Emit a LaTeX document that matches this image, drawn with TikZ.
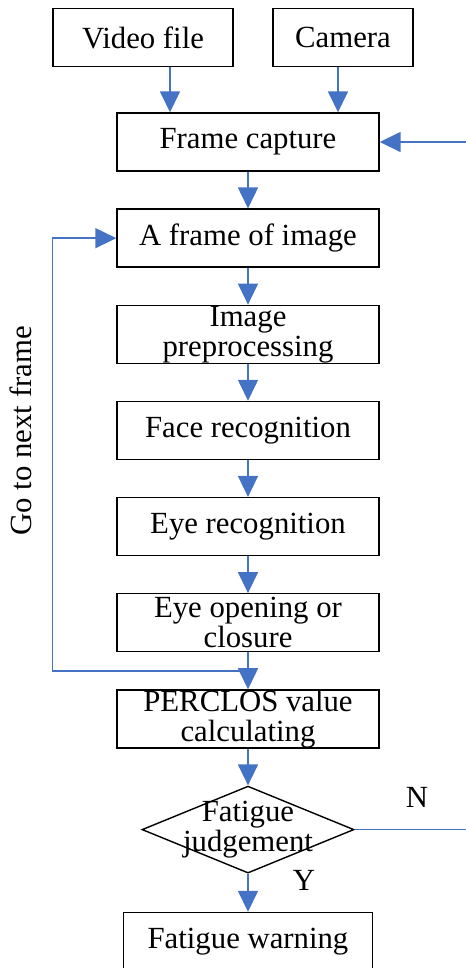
\documentclass[tikz,border=0pt]{standalone}
\usepackage{fontspec}
\setmainfont{Liberation Serif}
\usepackage{tikz}
\usetikzlibrary{shapes.geometric, arrows.meta, positioning, calc}
\definecolor{flowblue}{HTML}{4472C4}

\begin{document}
\begin{tikzpicture}[
    node distance=0.735cm,
    font=\fontsize{17.5}{17}\selectfont,
    stepbox/.style={rectangle, draw=black, line width=0.8pt, minimum width=5.24cm, minimum height=1.16cm, align=center, inner sep=0pt},
    srcbox/.style={stepbox, minimum width=#1},
    decision/.style={diamond, draw=black, line width=0.8pt, minimum width=4.24cm, minimum height=1.74cm, inner sep=0pt},
    arrow/.style={-{Triangle[length=0.42cm, width=0.4cm]}, draw=flowblue, line width=0.9pt},
    link/.style={draw=flowblue, line width=0.9pt}
]
\useasboundingbox (-4.96,2.84) rectangle (4.36,-16.52);

% Nodes
\node[stepbox] (capture) {Frame capture};
\node[srcbox=3.6cm, above=0.9cm of capture, xshift=-2.1cm] (video) {Video file};
\node[srcbox=2.8cm, above=0.9cm of capture, xshift=1.9cm] (camera) {Camera};

\node[stepbox, below=of capture] (frame) {A frame of image};
\node[stepbox, below=of frame] (prep) {Image\\preprocessing};
\node[stepbox, below=of prep] (face) {Face recognition};
\node[stepbox, below=of face] (eye) {Eye recognition};
\node[stepbox, below=of eye] (open) {Eye opening or\\closure};
\node[stepbox, below=of open] (perclos) {PERCLOS value\\calculating};

\node[decision, below=of perclos, label={[align=center]center:Fatigue\\judgement}] (judge) {};
\node[stepbox, minimum width=4.98cm, below=0.76cm of judge] (warn) {Fatigue warning};

% Loop points
\coordinate (backin) at ([xshift=1.74cm]capture.east);
\coordinate (backout) at (backin |- judge.east);
\coordinate (loopturn) at ($(open.south)!0.5!(perclos.north)$);
\coordinate (looptop) at ([xshift=-1.28cm]frame.west);

% Arrows
\draw[arrow] ([xshift=0.54cm]video.south) -- ([xshift=0.54cm]video.south |- capture.north);
\draw[arrow] ([xshift=-0.1cm]camera.south) -- ([xshift=-0.1cm]camera.south |- capture.north);
\draw[arrow] (backin) -- (capture);

\draw[arrow] (capture) -- (frame);
\draw[arrow] (frame) -- (prep);
\draw[arrow] (prep) -- (face);
\draw[arrow] (face) -- (eye);
\draw[arrow] (eye) -- (open);
\draw[arrow] (open) -- (perclos);
\draw[arrow] (perclos) -- (judge);

\draw[arrow] (loopturn) -- (loopturn -| looptop)
    -- node[pos=0.555, rotate=90, anchor=south, inner sep=0.4cm, text=black] {Go to next frame} (looptop)
    -- (frame.west);

\draw[arrow] (judge) -- node[pos=0.18, right=0.88cm, inner sep=0pt, text=black] {Y} (warn);
\draw[link] (judge.east) -- node[pos=0.555, above=0.42cm, inner sep=0pt, text=black] {N} (backout);

\end{tikzpicture}
\end{document}
